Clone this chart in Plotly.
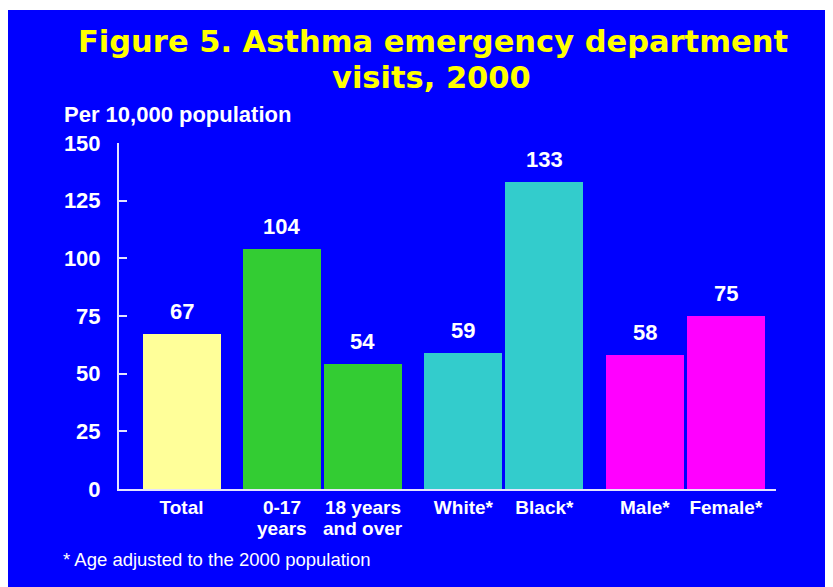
import plotly.graph_objects as go

# ---- data ----
categories = ["Total", "0-17<br>years", "18 years<br>and over", "White*", "Black*", "Male*", "Female*"]
values = [67, 104, 54, 59, 133, 58, 75]
groups = [0, 1, 1, 2, 2, 3, 3]
bar_colors = ["#FFFF99", "#33CC33", "#33CC33", "#33CCCC", "#33CCCC", "#FF00FF", "#FF00FF"]
y_ticks = [0, 25, 50, 75, 100, 125, 150]

title_line1 = "Figure 5. Asthma emergency department"
title_line2 = "visits, 2000"
y_label = "Per 10,000 population"
footnote = "* Age adjusted to the 2000 population"

# ---- layout helpers (page has an 8px body margin) ----
OFF = 8
W, H = 833, 587
L, R, T, B = 111, 65, 135, 106
plot_w = W - L - R
plot_h = H - T - B
group_gap = 0.24
positions = [i + g * group_gap for i, g in enumerate(groups)]
x_range = [-0.772, -0.772 + plot_w / 81.0]

BLUE = "#0000FF"
WHITE = "#FFFFFF"
YELLOW = "#FFFF00"
AX = "#E4E4FF"
SANS = "Liberation Sans, Arial, sans-serif"


def px_x(px):
    return (px - OFF - L) / plot_w


def px_y(py):
    return (H - B - (py - OFF)) / plot_h


fig = go.Figure()
fig.add_trace(go.Bar(
    x=positions, y=values, width=78 / 81.0,
    marker=dict(color=bar_colors, line=dict(width=0)),
    hoverinfo="skip", showlegend=False,
))

annotations = []
for p, v in zip(positions, values):
    annotations.append(dict(
        x=p, y=v, xref="x", yref="y", text=str(v), showarrow=False,
        yanchor="bottom", xanchor="center", yshift=8,
        font=dict(family=SANS, size=22, color=WHITE, weight="bold"),
    ))

# category labels: first line as tick text, second line placed just below
first_lines = [c.split("<br>")[0] for c in categories]
for p, c in zip(positions, categories):
    parts = c.split("<br>")
    if len(parts) > 1:
        annotations.append(dict(
            x=p, xref="x", y=px_y(528), yref="paper", text=parts[1], showarrow=False,
            xanchor="center", yanchor="middle",
            font=dict(family=SANS, size=19, color=WHITE, weight="bold"),
        ))

annotations += [
    dict(x=px_x(433), y=px_y(42), xref="paper", yref="paper", text=title_line1,
         showarrow=False, xanchor="center", yanchor="middle",
         font=dict(family="DejaVu Sans, sans-serif", size=30.5, color=YELLOW, weight="bold")),
    dict(x=px_x(431), y=px_y(78), xref="paper", yref="paper", text=title_line2,
         showarrow=False, xanchor="center", yanchor="middle",
         font=dict(family="DejaVu Sans, sans-serif", size=30.5, color=YELLOW, weight="bold")),
    dict(x=px_x(62), y=px_y(114), xref="paper", yref="paper", text=y_label,
         showarrow=False, xanchor="left", yanchor="middle",
         font=dict(family=SANS, size=22, color=WHITE, weight="bold")),
    dict(x=px_x(61), y=px_y(559), xref="paper", yref="paper", text=footnote,
         showarrow=False, xanchor="left", yanchor="middle",
         font=dict(family=SANS, size=18.5, color=WHITE)),
]

fig.update_layout(
    width=W, height=H,
    margin=dict(l=L, r=R, t=T, b=B, pad=0),
    paper_bgcolor=WHITE,
    plot_bgcolor=BLUE,
    bargap=0,
    annotations=annotations,
    shapes=[dict(type="rect", xref="paper", yref="paper", layer="below",
                 x0=px_x(OFF - 2), x1=px_x(W + 20), y0=px_y(H + 20), y1=px_y(10),
                 fillcolor=BLUE, line=dict(width=0))],
    xaxis=dict(
        range=x_range, tickmode="array", tickvals=positions, ticktext=first_lines,
        showline=True, linecolor=AX, linewidth=2, ticks="", showgrid=False,
        zeroline=False, fixedrange=True,
        tickfont=dict(family=SANS, size=19, color=WHITE, weight="bold"),
    ),
    yaxis=dict(
        range=[0, 150], tickmode="array", tickvals=y_ticks,
        showline=True, linecolor=AX, linewidth=2,
        ticks="inside", ticklen=8, tickwidth=2, tickcolor=AX,
        showgrid=False, zeroline=False, ticklabelstandoff=12,
        tickfont=dict(family=SANS, size=22, color=WHITE, weight="bold"),
    ),
)

fig.write_html("out.html")
